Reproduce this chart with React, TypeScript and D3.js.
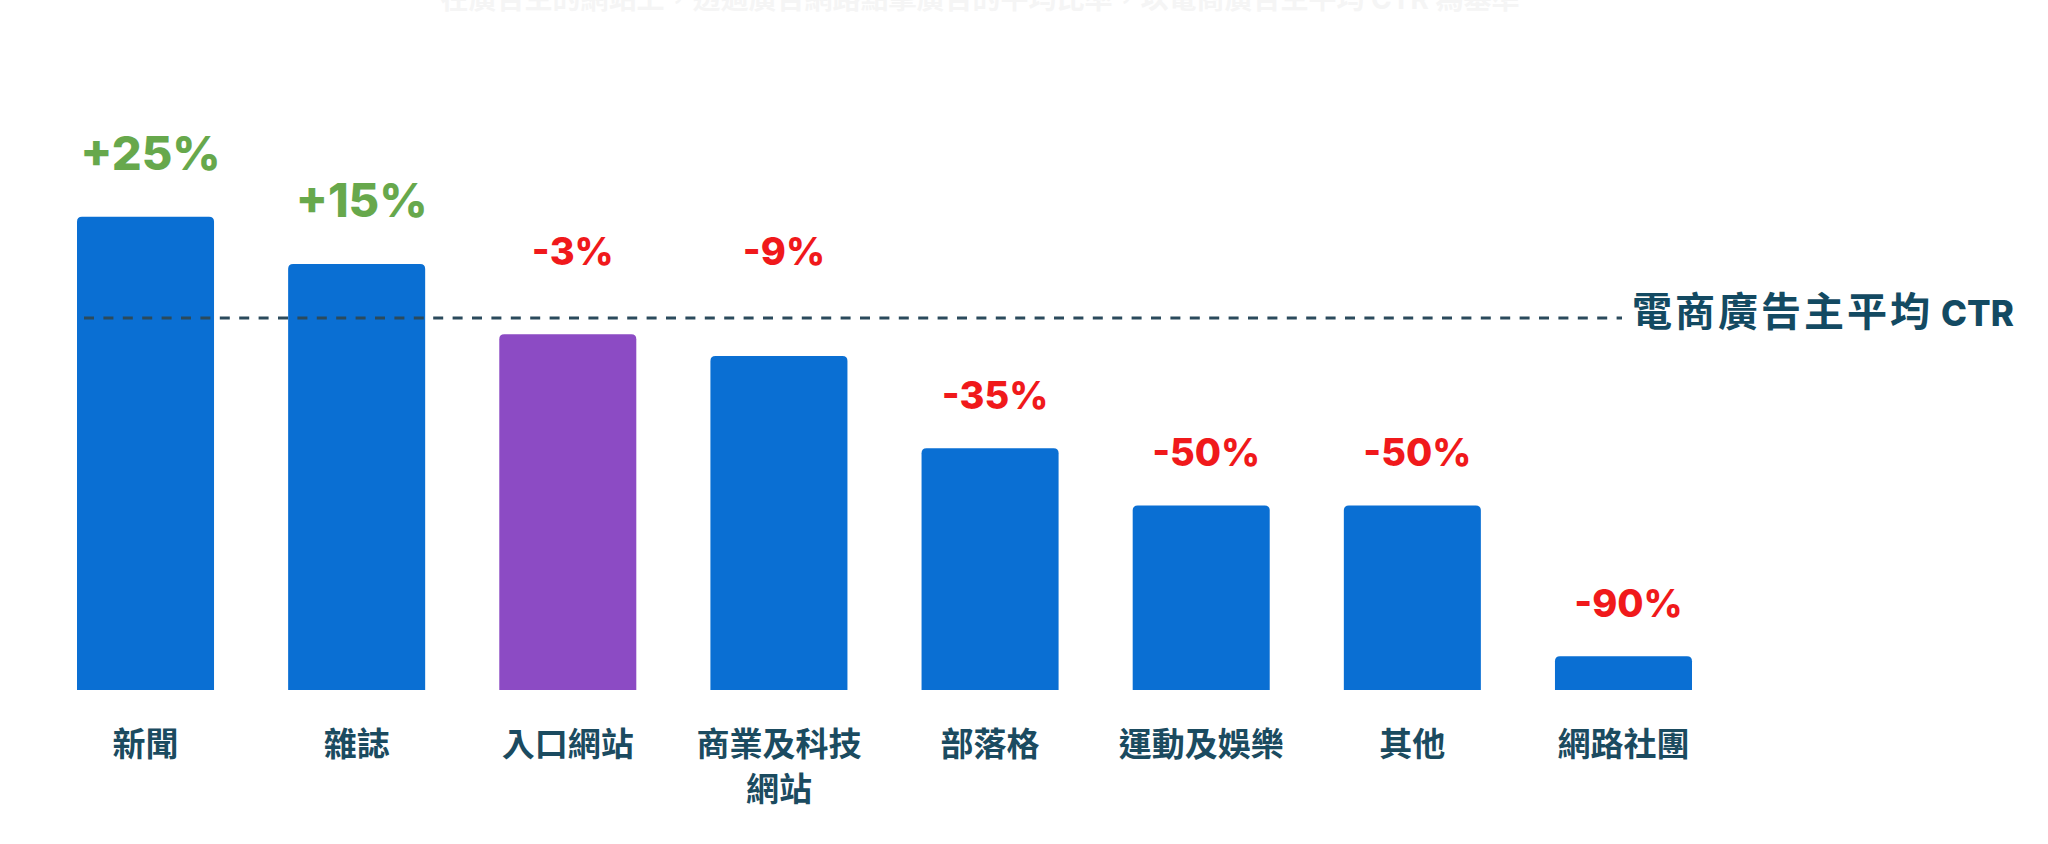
import React from "react";
import * as d3 from "d3";

const categories: string[] = ["新聞", "雜誌", "入口網站", "商業及科技\n網站", "部落格", "運動及娛樂", "其他", "網路社團"];
const ctrIndex: number[] = [127.2, 114.5, 95.6, 89.8, 65, 49.6, 49.6, 9.1];
const changeLabels: string[] = ["+25%", "+15%", "-3%", "-9%", "-35%", "-50%", "-50%", "-90%"];
const highlighted: string[] = ["入口網站"];
const averageValue = 100;
const averageLabelCjk = "電商廣告主平均";
const averageLabelLatin = "CTR";
const titleText = "在廣告主的網站上，透過廣告網路點擊廣告的平均比率，以電商廣告主平均 CTR 為基準";

const W = 2048;
const H = 844;
const FONT = "Inter, 'Noto Sans CJK TC', 'Noto Sans', sans-serif";

export default function App() {
  const x = d3
    .scaleBand<string>()
    .domain(categories)
    .range([77, 1692])
    .paddingInner(0.351)
    .paddingOuter(0);
  const y = d3.scaleLinear().domain([0, averageValue]).range([690, 318]);
  const avgY = y(averageValue);

  return (
    <svg
      width={W}
      height={H}
      viewBox={`0 0 ${W} ${H}`}
      style={{ position: "absolute", left: 0, top: 0, display: "block", background: "#fff" }}
    >
      <text x={980} y={9} textAnchor="middle" fontFamily={FONT} fontSize={28} fontWeight={700} fill="#f5f5f5">
        {titleText}
      </text>
      {categories.map((c, i) => {
        const bx = x(c)!;
        const top = y(ctrIndex[i]);
        const h = y(0) - top;
        const fill = highlighted.includes(c) ? "#8c4bc4" : "#0a6fd3";
        const r = 5;
        const w = x.bandwidth();
        const path = `M${bx},${top + h} L${bx},${top + r} Q${bx},${top} ${bx + r},${top} L${bx + w - r},${top} Q${bx + w},${top} ${bx + w},${top + r} L${bx + w},${top + h} Z`;
        return <path key={c} d={path} fill={fill} />;
      })}
      <line
        x1={84}
        x2={1622}
        y1={avgY}
        y2={avgY}
        stroke="#2b4a5c"
        strokeWidth={3}
        strokeDasharray="10 9.4"
      />
      <text x={1632} y={avgY + 8} fontFamily={FONT} fontWeight={700} fill="#134a62">
        <tspan fontSize={40} letterSpacing={3}>{averageLabelCjk}</tspan>
        <tspan fontSize={35} fontWeight={800} dx={8}>{averageLabelLatin}</tspan>
      </text>
      {categories.map((c, i) => {
        const cx = x(c)! + x.bandwidth() / 2;
        const top = y(ctrIndex[i]);
        const positive = changeLabels[i].startsWith("+");
        const gap = positive ? 47 : 39;
        let base = top - gap;
        if (base > avgY - 53 && base < avgY + 60) base = avgY - 53;
        return (
          <text
            key={c + "p"}
            x={cx + 5}
            y={base}
            textAnchor="middle"
            fontFamily={FONT}
            fontSize={positive ? 47 : 38}
            fontWeight={800}
            fill={positive ? "#67a84c" : "#f0191b"}
          >
            {changeLabels[i]}
          </text>
        );
      })}
      {categories.map((c, i) => {
        const cx = x(c)! + x.bandwidth() / 2;
        const lines = c.split("\n");
        return (
          <text
            key={c + "l"}
            x={cx}
            y={756}
            textAnchor="middle"
            fontFamily={FONT}
            fontSize={33}
            fontWeight={700}
            fill="#1b4b60"
          >
            {lines.map((ln, j) => (
              <tspan key={j} x={cx} dy={j === 0 ? 0 : 45}>
                {ln}
              </tspan>
            ))}
          </text>
        );
      })}
    </svg>
  );
}
